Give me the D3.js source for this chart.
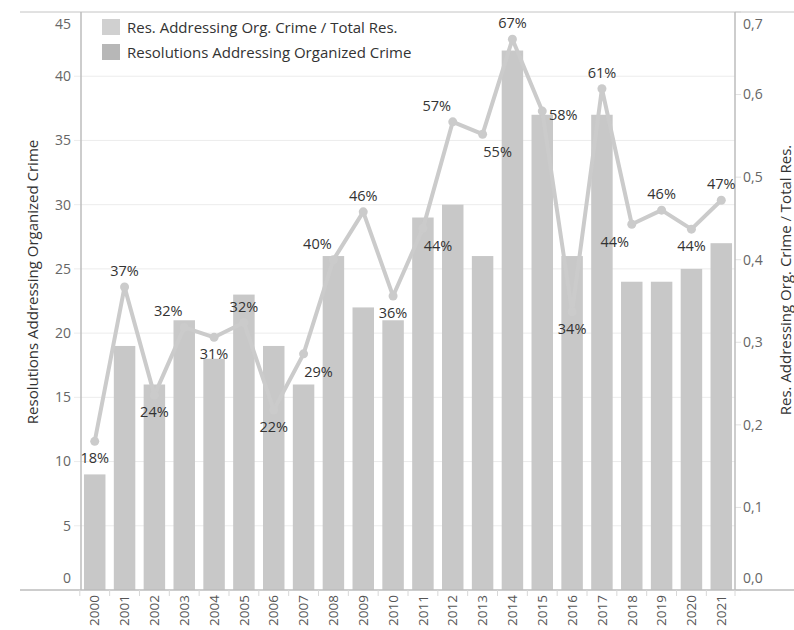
<!DOCTYPE html>
<html>
<head>
<meta charset="utf-8">
<script src="https://cdn.jsdelivr.net/npm/d3@7"></script>
<style>
  body { margin: 0; background: #fff; }
  text { font-family: "Open Sans", Lato, sans-serif; }
</style>
</head>
<body>
<div id="chart-area"></div>
<script>
var years = ["2000","2001","2002","2003","2004","2005","2006","2007","2008","2009","2010",
             "2011","2012","2013","2014","2015","2016","2017","2018","2019","2020","2021"];
var resolutions = [9, 19, 16, 21, 18, 23, 19, 16, 26, 22, 21, 29, 30, 26, 42, 37, 26, 37, 24, 24, 25, 27];
var shares = [0.18, 0.367, 0.236, 0.318, 0.306, 0.324, 0.218, 0.286, 0.40, 0.458, 0.356,
              0.438, 0.567, 0.552, 0.667, 0.58, 0.337, 0.607, 0.443, 0.46, 0.437, 0.472];
var leftTicks = [0, 5, 10, 15, 20, 25, 30, 35, 40, 45];
var rightTicks = [0, 0.1, 0.2, 0.3, 0.4, 0.5, 0.6, 0.7];
var legendLabels = ["Res. Addressing Org. Crime / Total Res.", "Resolutions Addressing Organized Crime"];

// where each % label sits relative to its point
var labelPlace = ["b","t","b","tl","b","t","b","br","tl","t","b",
                  "br","tl","br","t","r","b","t","bl","t","b","t"];
var placeOffset = {
    t: [0, -16], b: [0, 17], tl: [-16, -16], bl: [-17, 18],
    br: [15, 18], r: [21, 4]
};

var width = 794, height = 630;
var plotL = 81, plotR = 735, plotT = 12, plotB = 590;
var barColor = "#c8c8c8", lineColor = "#cbcbcb";

var svg = d3.select("#chart-area")
    .append("svg")
    .attr("width", width)
    .attr("height", height);

var x = d3.scaleBand()
    .domain(years)
    .range([plotL, plotR])
    .paddingInner(0.28)
    .paddingOuter(0.1);

var y = d3.scaleLinear().domain([0, 45]).range([plotB, plotT]);
var y2 = d3.scaleLinear().domain([0, 0.7]).range([plotB, plotT]);

var commaFmt = d3.formatLocale({decimal: ",", thousands: ".", grouping: [3], currency: ["", ""]}).format(".1f");
var pct = d3.format(".0%");

// gridlines
svg.append("g").selectAll("line")
    .data(leftTicks.filter((d) => d > 0 && d < 45))
    .enter().append("line")
    .attr("x1", plotL - 7).attr("x2", plotR)
    .attr("y1", (d) => y(d)).attr("y2", (d) => y(d))
    .attr("stroke", "#ececec").attr("stroke-width", 1);

// right ticks
svg.append("g").selectAll("line")
    .data(rightTicks)
    .enter().append("line")
    .attr("x1", plotR).attr("x2", plotR + 6)
    .attr("y1", (d) => y2(d)).attr("y2", (d) => y2(d))
    .attr("stroke", "#e2e2e2");

// bars
svg.append("g").selectAll("rect")
    .data(resolutions)
    .enter().append("rect")
    .attr("x", (d, i) => x(years[i]))
    .attr("y", (d) => y(d))
    .attr("width", x.bandwidth())
    .attr("height", (d) => y(0) - y(d))
    .attr("fill", barColor);

// frame lines
svg.append("line").attr("x1", 20).attr("x2", width).attr("y1", plotT).attr("y2", plotT)
    .attr("stroke", "#c4c4c4");
svg.append("line").attr("x1", 20).attr("x2", width).attr("y1", plotB).attr("y2", plotB)
    .attr("stroke", "#bdbdbd").attr("stroke-width", 1.5);
svg.append("line").attr("x1", plotL).attr("x2", plotL).attr("y1", plotT).attr("y2", plotB)
    .attr("stroke", "#bdbdbd").attr("stroke-width", 1.5);
svg.append("line").attr("x1", plotR).attr("x2", plotR).attr("y1", plotT).attr("y2", plotB)
    .attr("stroke", "#bdbdbd").attr("stroke-width", 1.5);

// bottom tick marks at band edges
var step = x.step();
var edges = years.map((d) => x(d) - (step - x.bandwidth()) / 2).concat([plotR]);
svg.append("g").selectAll("line")
    .data(edges)
    .enter().append("line")
    .attr("x1", (d) => d).attr("x2", (d) => d)
    .attr("y1", plotB).attr("y2", plotB + 6)
    .attr("stroke", "#d8d8d8");

// line + points
var line = d3.line()
    .x((d, i) => x(years[i]) + x.bandwidth() / 2)
    .y((d) => y2(d));

svg.append("path")
    .datum(shares)
    .attr("d", line)
    .attr("fill", "none")
    .attr("stroke", lineColor)
    .attr("stroke-width", 4)
    .attr("stroke-linejoin", "round");

svg.append("g").selectAll("circle")
    .data(shares)
    .enter().append("circle")
    .attr("cx", (d, i) => x(years[i]) + x.bandwidth() / 2)
    .attr("cy", (d) => y2(d))
    .attr("r", 4.5)
    .attr("fill", lineColor);

svg.append("g").selectAll("text")
    .data(shares)
    .enter().append("text")
    .attr("x", (d, i) => x(years[i]) + x.bandwidth() / 2 + placeOffset[labelPlace[i]][0])
    .attr("y", (d, i) => y2(d) + placeOffset[labelPlace[i]][1])
    .attr("dy", "0.35em")
    .attr("text-anchor", "middle")
    .attr("font-size", "14.5px")
    .attr("fill", "#333")
    .text((d) => pct(d));

// left axis labels
svg.append("g").selectAll("text")
    .data(leftTicks)
    .enter().append("text")
    .attr("x", 71)
    .attr("y", (d) => d === 0 ? y(d) - 12 : d === 45 ? y(d) + 12 : y(d))
    .attr("dy", "0.35em")
    .attr("text-anchor", "end")
    .attr("font-size", "14px")
    .attr("fill", "#666")
    .text((d) => d);

// right axis labels
svg.append("g").selectAll("text")
    .data(rightTicks)
    .enter().append("text")
    .attr("x", 743)
    .attr("y", (d) => d === 0 ? y2(d) - 12 : d === 0.7 ? y2(d) + 12 : y2(d))
    .attr("dy", "0.35em")
    .attr("text-anchor", "start")
    .attr("font-size", "14px")
    .attr("fill", "#666")
    .text((d) => commaFmt(d));

// year labels
svg.append("g").selectAll("text")
    .data(years)
    .enter().append("text")
    .attr("transform", (d) => "translate(" + (x(d) + x.bandwidth() / 2) + "," + (plotB + 5) + ") rotate(-90)")
    .attr("dy", "0.35em")
    .attr("text-anchor", "end")
    .attr("font-size", "13.5px")
    .attr("fill", "#555")
    .text((d) => d);

// axis titles
svg.append("text")
    .attr("transform", "translate(33,282) rotate(-90)")
    .attr("dy", "0.35em")
    .attr("text-anchor", "middle")
    .attr("font-size", "15px")
    .attr("fill", "#333")
    .text("Resolutions Addressing Organized Crime");

svg.append("text")
    .attr("transform", "translate(786,280) rotate(-90)")
    .attr("dy", "0.35em")
    .attr("text-anchor", "middle")
    .attr("font-size", "15px")
    .attr("fill", "#333")
    .text("Res. Addressing Org. Crime / Total Res.");

// legend
var legendColors = ["#d0d0d0", "#b7b7b7"];
var legend = svg.append("g").selectAll("g")
    .data(legendLabels)
    .enter().append("g")
    .attr("transform", (d, i) => "translate(102," + (19 + i * 25) + ")");
legend.append("rect")
    .attr("width", 18).attr("height", 16)
    .attr("fill", (d, i) => legendColors[i]);
legend.append("text")
    .attr("x", 25).attr("y", 9)
    .attr("dy", "0.35em")
    .attr("font-size", "15px")
    .attr("fill", "#333")
    .text((d) => d);
</script>
</body>
</html>
